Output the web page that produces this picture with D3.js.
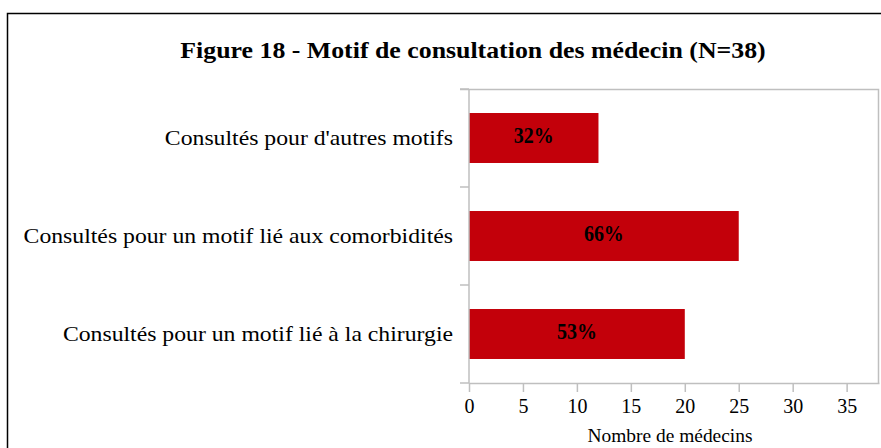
<!DOCTYPE html>
<html>
<head>
<meta charset="utf-8">
<script src="https://cdn.jsdelivr.net/npm/d3@7"></script>
<style>
  body { margin: 0; background: #fff; }
  text { font-family: "Liberation Serif", "Times New Roman", serif; }
</style>
</head>
<body>
<div id="chart"></div>
<script>
var svgWidth = 881;
var svgHeight = 448;

// data
var categories = [
    "Consultés pour d'autres motifs",
    "Consultés pour un motif lié aux comorbidités",
    "Consultés pour un motif lié à la chirurgie"
];
var counts = [12, 25, 20];
var percentLabels = ["32%", "66%", "53%"];
var xTicks = [0, 5, 10, 15, 20, 25, 30, 35];

var margin = { top: 89, right: 2, bottom: 65, left: 469 };
var width = svgWidth - margin.left - margin.right;
var height = svgHeight - margin.top - margin.bottom;

var svg = d3.select("#chart")
    .append("svg")
    .attr("width", svgWidth)
    .attr("height", svgHeight);

// outer frame
svg.append("rect")
    .attr("x", 7.5)
    .attr("y", 13.5)
    .attr("width", 900)
    .attr("height", 500)
    .attr("fill", "none")
    .attr("stroke", "#000")
    .attr("stroke-width", 1.5);

// the original text is a bit wider than Liberation Serif, so stretch it
svg.append("text")
    .attr("transform", "translate(473, 58) scale(1.1, 1)")
    .attr("text-anchor", "middle")
    .attr("font-weight", "bold")
    .attr("font-size", "23.5px")
    .text("Figure 18 - Motif de consultation des médecin (N=38)");

var chartGroup = svg.append("g")
    .attr("transform", `translate(${margin.left}, ${margin.top})`);

var xScale = d3.scaleLinear()
    .domain([0, 38])
    .range([0, width]);

var yScale = d3.scaleBand()
    .domain(categories)
    .range([0, height])
    .paddingInner(0.49)
    .paddingOuter(0.245);

// plot frame (top and right)
chartGroup.append("path")
    .attr("d", `M-9,0.5H${width - 0.5}V${height}`)
    .attr("fill", "none")
    .attr("stroke", "#bfbfbf")
    .attr("stroke-width", 1.5);

// bars
chartGroup.selectAll(".bar")
    .data(counts)
    .enter()
    .append("rect")
    .attr("class", "bar")
    .attr("x", 0)
    .attr("y", (d, i) => yScale(categories[i]))
    .attr("width", d => xScale(d))
    .attr("height", yScale.bandwidth())
    .attr("fill", "#c3000a");

chartGroup.selectAll(".pct")
    .data(counts)
    .enter()
    .append("text")
    .attr("class", "pct")
    .attr("transform", (d, i) => `translate(${xScale(d) / 2}, ${yScale(categories[i]) + yScale.bandwidth() / 2 + 5}) scale(0.95, 1.1)`)
    .attr("text-anchor", "middle")
    .attr("font-weight", "bold")
    .attr("font-size", "21px")
    .text((d, i) => percentLabels[i]);

// x axis
var bottomAxis = d3.axisBottom(xScale)
    .tickValues(xTicks)
    .tickSize(9)
    .tickSizeOuter(0)
    .tickPadding(7);

var xAxis = chartGroup.append("g")
    .attr("transform", `translate(0, ${height})`)
    .call(bottomAxis);
xAxis.selectAll("line, path").attr("stroke", "#bfbfbf").attr("stroke-width", 1.5);
xAxis.selectAll("text")
    .attr("font-size", "20px")
    .attr("fill", "#000")
    .style("font-family", "Liberation Serif, serif");

// y axis: ticks at band boundaries
var yAxis = chartGroup.append("g");
yAxis.append("line")
    .attr("x1", 0).attr("x2", 0)
    .attr("y1", 0).attr("y2", height)
    .attr("stroke", "#bfbfbf")
    .attr("stroke-width", 1.5);
var step = yScale.step();
yAxis.selectAll(".ytick")
    .data(d3.range(categories.length + 1))
    .enter()
    .append("line")
    .attr("x1", -9).attr("x2", 0)
    .attr("y1", d => d3.min([height, yScale(categories[0]) - yScale.paddingOuter() * step + d * step]))
    .attr("y2", d => d3.min([height, yScale(categories[0]) - yScale.paddingOuter() * step + d * step]))
    .attr("stroke", "#bfbfbf")
    .attr("stroke-width", 1.5);

yAxis.selectAll(".ylab")
    .data(categories)
    .enter()
    .append("text")
    .attr("transform", d => `translate(-16, ${yScale(d) + yScale.bandwidth() / 2 + 6.5}) scale(1.13, 1)`)
    .attr("text-anchor", "end")
    .attr("font-size", "21px")
    .text(d => d);

// axis title
chartGroup.append("text")
    .attr("transform", `translate(${width / 2 - 4}, ${height + 59}) scale(1.08, 1)`)
    .attr("text-anchor", "middle")
    .attr("font-size", "18px")
    .text("Nombre de médecins");
</script>
</body>
</html>
